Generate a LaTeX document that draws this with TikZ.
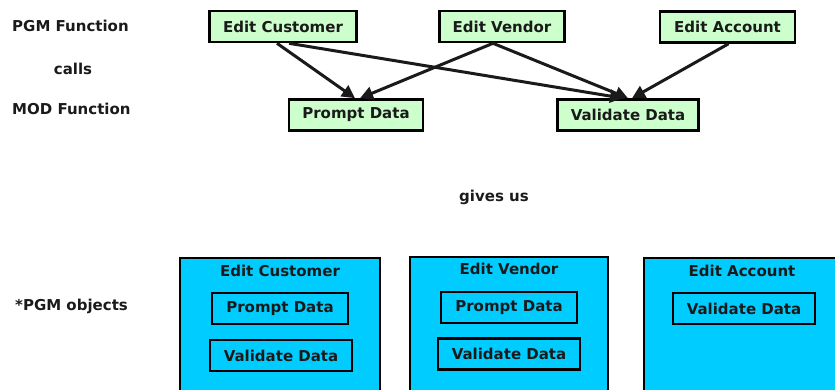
\documentclass[tikz,border=0pt]{standalone}
\usepackage{fontspec}
\setmainfont{DejaVu Sans}
\usetikzlibrary{arrows.meta,calc}
\definecolor{mint}{HTML}{CCFFCC}
\definecolor{sky}{HTML}{00CCFF}
\definecolor{ink}{HTML}{1A1A1A}
\begin{document}
\begin{tikzpicture}[x=1pt,y=-1pt,
  lbl/.style={font=\bfseries\fontsize{15}{18}\selectfont, text=ink, inner sep=0pt},
  fnode/.style={lbl, draw=black, line width=2.6pt, fill=mint, minimum height=31pt},
  obj/.style={draw=black, line width=2.6pt, fill=sky, inner sep=0pt},
  sub/.style={lbl, draw=black, line width=2.6pt, minimum height=31pt},
  call/.style={line width=3pt, draw=ink, -{Triangle[length=13pt,width=13pt]}}]
\clip (0,0) rectangle (835,390);

% side captions
\node[lbl, anchor=west] (pgm) at (12,26) {PGM Function};
\node[lbl] (calls) at (73,69) {calls};
\node[lbl, anchor=west] (mod) at (12,109) {MOD Function};
\node[lbl] (gives) at (494,197) {gives us};
\node[lbl, anchor=west] (objs) at (15,306) {*PGM objects};

% PGM functions
\node[fnode, minimum width=147pt] (cust) at (283,26.5) {Edit Customer};
\node[fnode, minimum width=125pt] (vend) at (502,26.5) {Edit Vendor};
\node[fnode, minimum width=135pt] (acct) at (727.5,27) {Edit Account};

% MOD functions
\node[fnode, minimum width=134pt] (prompt) at (356,115) {Prompt Data};
\node[fnode, minimum width=141pt] (valid) at (628,115) {Validate Data};

% calls
\draw[call] ($(cust.south)+(-6,0)$) -- ($(prompt.north)+(-1,0)$);
\draw[call] ($(cust.south)+(6,0)$) -- ($(valid.north)+(-5,0)$);
\draw[call] ($(vend.south)+(-9,0)$) -- ($(prompt.north)+(4,0)$);
\draw[call] ($(vend.south)+(-9,0)$) -- ($(valid.north)+(0,0)$);
\draw[call] ($(acct.south)+(1,0)$) -- ($(valid.north)+(4,0)$);

% PGM objects
\node[obj, minimum width=200pt, minimum height=134pt] (bcust) at (280,325) {};
\node[lbl] (bcustT) at (280,271) {Edit Customer};
\node[sub, minimum width=136pt] (bcustP) at (280,308.5) {Prompt Data};
\node[sub, minimum width=142pt] (bcustV) at (281,355.5) {Validate Data};

\node[obj, minimum width=198pt, minimum height=135pt] (bvend) at (509,324.5) {};
\node[lbl] (bvendT) at (509,269) {Edit Vendor};
\node[sub, minimum width=136pt] (bvendP) at (509,307.5) {Prompt Data};
\node[sub, minimum width=142pt] (bvendV) at (509,354) {Validate Data};

\node[obj, minimum width=198pt, minimum height=134pt] (bacct) at (743,325) {};
\node[lbl] (bacctT) at (742,271) {Edit Account};
\node[sub, minimum width=142pt] (bacctV) at (744,308.5) {Validate Data};
\end{tikzpicture}
\end{document}
